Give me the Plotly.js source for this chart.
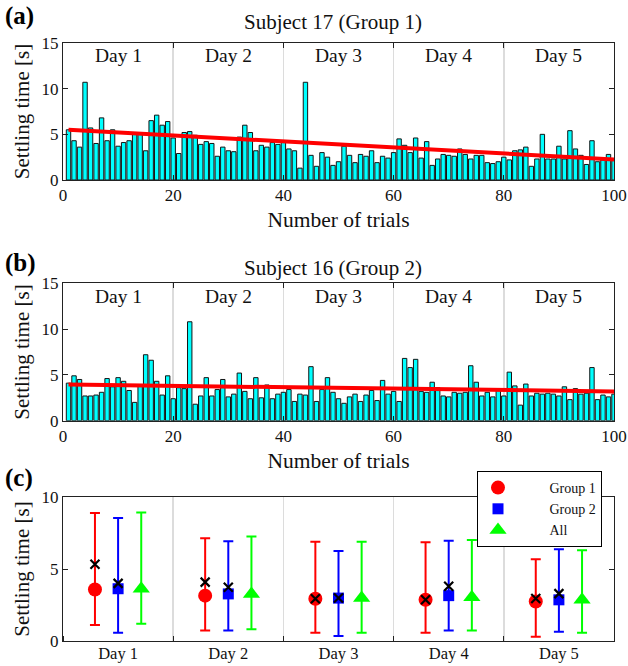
<!DOCTYPE html>
<html>
<head>
<meta charset="utf-8">
<script src="https://cdn.plot.ly/plotly-3.0.1.min.js"></script>
<style>html,body{margin:0;padding:0;background:#fff;}#plot{width:628px;height:666px;}</style>
</head>
<body>
<div id="plot"></div>
<script>
// ---------- DATA ----------
const subj17 = [5.5,4.3,3.6,10.7,5.7,4.0,6.8,4.3,5.5,3.7,
  4.1,4.3,5.2,5.1,3.2,6.5,7.1,6.0,6.4,4.6,
  2.9,5.2,5.3,4.9,3.9,4.2,4.0,2.6,3.6,3.2,
  3.1,4.7,6.0,5.2,3.2,3.8,3.6,4.1,3.9,4.3,
  3.4,3.2,1.3,10.7,2.7,1.5,3.0,2.5,1.6,2.0,
  3.7,2.7,1.9,2.8,2.6,3.2,1.9,2.6,2.4,3.0,
  4.5,3.8,3.0,4.6,2.4,4.2,1.6,2.3,2.8,2.7,
  2.6,3.4,2.8,2.3,2.7,2.7,1.9,1.8,2.0,2.5,
  2.2,3.2,3.3,3.6,1.5,2.3,5.0,2.3,2.3,3.7,
  2.3,5.4,3.4,2.7,1.7,4.3,2.0,2.2,2.8,2.3];
const subj16 = [4.1,4.9,4.5,2.7,2.7,2.8,3.1,4.6,3.7,4.7,
  4.3,3.3,2.0,3.8,7.2,6.6,4.3,2.8,4.9,2.4,
  3.6,3.5,10.8,1.8,2.7,4.7,2.7,3.4,4.5,2.6,
  2.9,5.2,3.2,2.4,4.7,2.5,3.9,2.4,2.9,3.1,
  3.4,2.1,2.9,2.8,5.9,2.1,3.4,4.7,3.1,2.4,
  1.9,2.6,2.9,2.1,2.8,3.3,2.2,4.4,2.9,3.2,
  2.1,6.8,5.8,6.7,3.2,3.1,4.2,3.6,2.7,2.6,
  3.1,3.0,3.1,6.0,4.2,2.7,3.1,2.6,3.5,2.7,
  5.3,3.8,1.7,4.0,2.7,3.0,2.9,3.0,2.9,2.7,
  3.7,2.3,3.5,2.9,3.0,5.8,2.3,2.8,2.6,2.9];
const fitX = [1, 100];
const fit17 = [5.5, 2.25];
const fit16 = [3.95, 3.2];
const dayLabels = ['Day 1','Day 2','Day 3','Day 4','Day 5'];
const dayCenters = [10, 30, 50, 70, 90];
const groupNames = ['Group 1', 'Group 2', 'All'];

const g1Mean  = [3.58, 3.15, 2.93, 2.86, 2.74];
const g1Upper = [8.89, 7.14, 6.90, 6.85, 5.67];
const g1Lower = [1.11, 0.73, 0.58, 0.58, 0.29];
const g1Cross = [5.33, 4.09, 2.93, 2.86, 2.95];
const g2Mean  = [3.63, 3.27, 2.98, 3.15, 2.86];
const g2Upper = [8.55, 6.92, 6.25, 6.97, 6.37];
const g2Lower = [0.58, 0.73, 0.34, 0.73, 0.65];
const g2Cross = [4.00, 3.73, 2.98, 3.80, 3.29];
const allMean  = [3.63, 3.27, 2.98, 3.03, 2.86];
const allUpper = [8.93, 7.26, 6.90, 7.02, 6.30];
const allLower = [1.19, 0.82, 0.58, 0.73, 0.58];

// ---------- BUILD ----------
const FONT = 'Liberation Serif';
const trials = subj17.map((_, i) => i + 1);
const dayIdx = dayLabels.map((_, i) => i + 1);
const off = 0.21;
const pad = '\u00a0\u00a0\u00a0\u00a0\u00a0\u00a0\u00a0\u00a0\u00a0';

function barTrace(y, xa, ya) {
  return {type:'bar', x: trials, y: y, xaxis: xa, yaxis: ya, width: 0.8,
    marker:{color:'#00ffff', line:{color:'#141414', width:1}}, showlegend:false, hoverinfo:'skip'};
}
function fitTrace(y, xa, ya) {
  return {type:'scatter', mode:'lines', x: fitX, y: y, xaxis: xa, yaxis: ya,
    line:{color:'#ff0000', width:4}, showlegend:false, hoverinfo:'skip'};
}
function errTrace(mean, up, lo, dx, color, symbol, size, name) {
  return {type:'scatter', mode:'markers', name: pad + name, xaxis:'x3', yaxis:'y3',
    x: dayIdx.map(d => d + dx), y: mean,
    marker:{color: color, symbol: symbol, size: size},
    error_y:{type:'data', symmetric:false,
      array: mean.map((m, i) => up[i] - m),
      arrayminus: mean.map((m, i) => m - lo[i]),
      color: color, thickness: 2, width: 5}};
}
function crossTrace(y, dx) {
  return {type:'scatter', mode:'markers', xaxis:'x3', yaxis:'y3', showlegend:false,
    x: dayIdx.map(d => d + dx), y: y,
    marker:{symbol:'x-thin', size:9, line:{color:'#000', width:2.2}, color:'#000'}};
}

const data = [
  barTrace(subj17, 'x', 'y'), fitTrace(fit17, 'x', 'y'),
  barTrace(subj16, 'x2', 'y2'), fitTrace(fit16, 'x2', 'y2'),
  errTrace(g1Mean, g1Upper, g1Lower, -off, '#ff0000', 'circle', 14, groupNames[0]),
  errTrace(g2Mean, g2Upper, g2Lower, 0, '#0000ff', 'square', 11, groupNames[1]),
  errTrace(allMean, allUpper, allLower, off, '#00ff00', 'triangle-up', 15, groupNames[2]),
  crossTrace(g1Cross, -off), crossTrace(g2Cross, 0)
];

const xd = [63/628, 614/628];
function trialAxis(anchor) {
  return {domain: xd, anchor: anchor, range:[0,100], tickvals:[0,20,40,60,80,100],
    ticks:'inside', ticklen:5, tickcolor:'#222', showline:true, linecolor:'#222', linewidth:1, mirror:'ticks',
    showgrid:true, gridcolor:'#dcdcdc', gridwidth:1.5, zeroline:false,
    tickfont:{family:FONT, size:17, color:'#111'},
    title:{text:'Number of trials', font:{family:FONT, size:21.5, color:'#111'}, standoff:7}};
}
function valAxis(anchor, dom, range, tv) {
  return {domain: dom, anchor: anchor, range: range, tickvals: tv,
    ticks:'inside', ticklen:5, tickcolor:'#222', showline:true, linecolor:'#222', linewidth:1, mirror:'ticks',
    showgrid:false, zeroline:false,
    tickfont:{family:FONT, size:17, color:'#111'},
    title:{text:'Settling time [s]', font:{family:FONT, size:21, color:'#111'}, standoff:6}};
}

const annotations = [];
function addDays(xref, yref, yv) {
  dayLabels.forEach((t, i) => annotations.push({xref: xref, yref: yref, x: dayCenters[i], y: yv,
    text: t, showarrow:false, font:{family:FONT, size:19.5, color:'#111'}, yanchor:'middle'}));
}
addDays('x', 'y', 13.6);
addDays('x2', 'y2', 13.6);
annotations.push({xref:'paper', yref:'paper', x:0.53, y:1-22/666, text:'Subject 17 (Group 1)',
  showarrow:false, font:{family:FONT, size:21, color:'#111'}, yanchor:'middle'});
annotations.push({xref:'paper', yref:'paper', x:0.53, y:1-268/666, text:'Subject 16 (Group 2)',
  showarrow:false, font:{family:FONT, size:21, color:'#111'}, yanchor:'middle'});
[['(a)',16],['(b)',263],['(c)',478]].forEach(p => annotations.push({xref:'paper', yref:'paper',
  x:3/628, y:1-p[1]/666, xanchor:'left', yanchor:'middle', text:'<b>'+p[0]+'</b>', showarrow:false,
  font:{family:FONT, size:25, color:'#000'}}));

const layout = {
  width:628, height:666, margin:{l:0, r:0, t:0, b:0},
  paper_bgcolor:'#fff', plot_bgcolor:'#fff', bargap:0,
  font:{family:FONT, color:'#111'},
  xaxis: trialAxis('y'),
  yaxis: valAxis('x', [1-180/666, 1-43/666], [0,15], [0,5,10,15]),
  xaxis2: trialAxis('y2'),
  yaxis2: valAxis('x2', [1-420.7/666, 1-283.3/666], [0,15], [0,5,10,15]),
  xaxis3: {domain: xd, anchor:'y3', range:[0.5,5.5], tickvals: dayIdx, ticktext: dayLabels,
    ticks:'', showline:true, linecolor:'#222', linewidth:1, mirror:true, showgrid:false, zeroline:false,
    ticklabelstandoff:-3,
    minor:{tick0:0.5, dtick:1, ticks:'inside', ticklen:5, tickcolor:'#222', showgrid:true, gridcolor:'#dcdcdc', gridwidth:1.5},
    tickfont:{family:FONT, size:16.5, color:'#111'}},
  yaxis3: valAxis('x3', [1-641/666, 1-497/666], [0,10], [0,5,10]),
  showlegend:true,
  legend:{x:477/628, y:1-471/666, xanchor:'left', yanchor:'top', bgcolor:'#fff', bordercolor:'#000', borderwidth:1,
    font:{family:FONT, size:14, color:'#111'}, itemwidth:30, tracegroupgap:0},
  annotations: annotations
};

Plotly.newPlot('plot', data, layout, {staticPlot:true, displayModeBar:false});
</script>
</body>
</html>
